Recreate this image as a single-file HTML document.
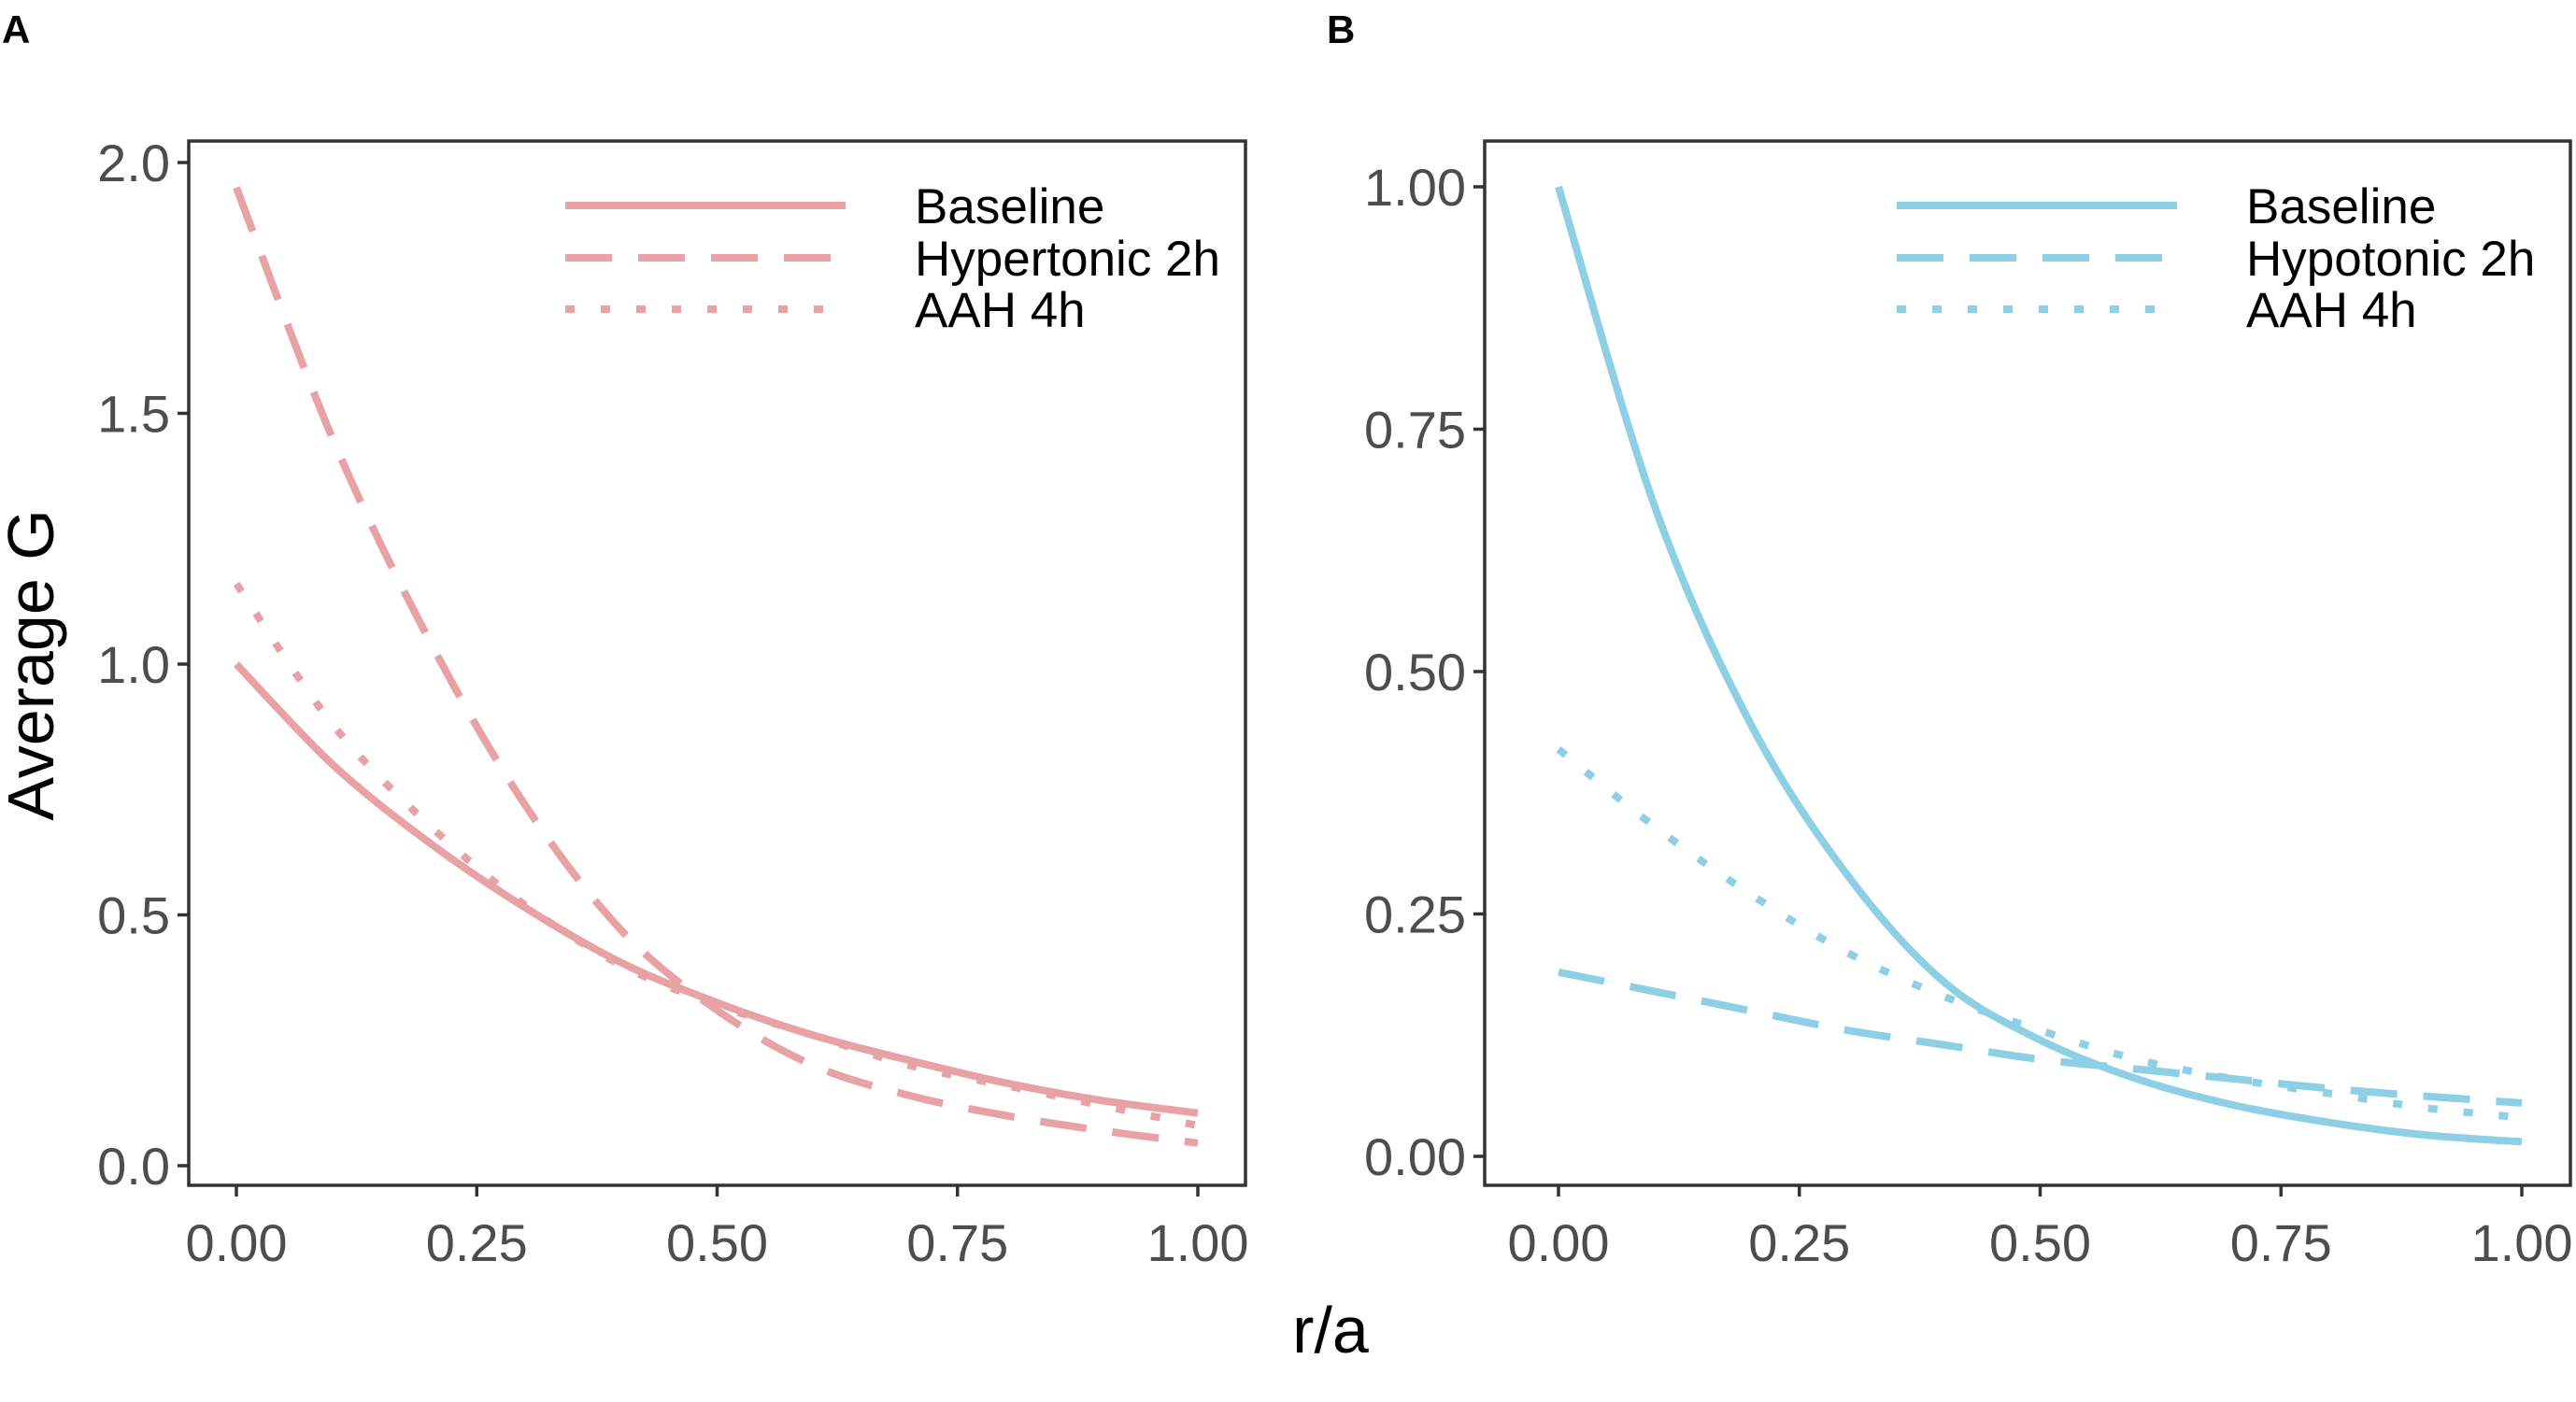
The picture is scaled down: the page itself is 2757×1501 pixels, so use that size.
<!DOCTYPE html>
<html><head><meta charset="utf-8"><style>
html,body{margin:0;padding:0;background:#fff;}
svg{display:block;font-family:"Liberation Sans",Arial,sans-serif;}
</style></head><body>
<svg id="chart" width="2757" height="1501" viewBox="0 0 2757 1501" xmlns="http://www.w3.org/2000/svg"></svg>
<script>
const xs = [0,0.1,0.2,0.3,0.4,0.5,0.6,0.7,0.8,0.9,1.0];
const aBaseline = [1.0,0.8,0.645,0.515,0.405,0.325,0.26,0.21,0.165,0.13,0.105];
const aHyper = [1.95,1.45,1.05,0.72,0.47,0.31,0.2,0.14,0.1,0.07,0.045];
const aAAH = [1.16,0.88,0.68,0.52,0.4,0.32,0.26,0.2,0.16,0.12,0.08];
const bBaseline = [1.0,0.67,0.445,0.29,0.18,0.12,0.08,0.053,0.035,0.022,0.015];
const bHypo = [0.19,0.17,0.15,0.13,0.115,0.1,0.09,0.08,0.07,0.062,0.055];
const bAAH = [0.42,0.34,0.27,0.21,0.165,0.13,0.1,0.08,0.065,0.05,0.04];
const xTicks = [0,0.25,0.5,0.75,1.0];
const xTickLabels = ["0.00","0.25","0.50","0.75","1.00"];
const aYTicks = [0,0.5,1.0,1.5,2.0];
const aYTickLabels = ["0.0","0.5","1.0","1.5","2.0"];
const bYTicks = [0,0.25,0.5,0.75,1.0];
const bYTickLabels = ["0.00","0.25","0.50","0.75","1.00"];
const aLegend = ["Baseline","Hypertonic 2h","AAH 4h"];
const bLegend = ["Baseline","Hypotonic 2h","AAH 4h"];

const NS="http://www.w3.org/2000/svg";
const svg=document.getElementById('chart');
function mk(tag,attrs,parent){const e=document.createElementNS(NS,tag);for(const k in attrs)e.setAttribute(k,attrs[k]);(parent||svg).appendChild(e);return e;}
const dashes=[null,"50 28","10 28"];

function panel(cfg){
  const g=mk('g',{});
  
  
  const sx=v=>cfg.x0+(cfg.x1-cfg.x0)*v;
  const sy=v=>cfg.y0+(cfg.yTop-cfg.y0)*(v/cfg.yMax);
  const box=mk('rect',{x:cfg.L,y:151,width:cfg.R-cfg.L,height:1118,fill:'none',stroke:'#333',"stroke-width":3.5},g);
  
  
  cfg.yTicks.forEach((t,i)=>{
    const y=sy(t);
    const tk=mk('line',{x1:cfg.L-12,x2:cfg.L,y1:y,y2:y,stroke:'#333',"stroke-width":3.5},g);
    
    
    const tx=mk('text',{x:cfg.L-20,y:y+20,"text-anchor":'end',"font-size":56,fill:'#4d4d4d'},g);
    tx.textContent=cfg.yLabels[i];
    
    
  });
  xTicks.forEach((t,i)=>{
    const x=sx(t);
    const tk=mk('line',{x1:x,x2:x,y1:1269,y2:1281,stroke:'#333',"stroke-width":3.5},g);
    
    
    const tx=mk('text',{x:x,y:1350,"text-anchor":'middle',"font-size":56,fill:'#4d4d4d'},g);
    tx.textContent=xTickLabels[i];
    
    
  });
  cfg.series.forEach((s,k)=>{
    const pts=xs.map((x,i)=>[sx(x),sy(s[i])]);
    let d='M'+pts[0][0]+','+pts[0][1];
    for(let i=0;i<pts.length-1;i++){
      const p0=pts[Math.max(0,i-1)],p1=pts[i],p2=pts[i+1],p3=pts[Math.min(pts.length-1,i+2)];
      const c1=[p1[0]+(p2[0]-p0[0])/6,p1[1]+(p2[1]-p0[1])/6];
      const c2=[p2[0]-(p3[0]-p1[0])/6,p2[1]-(p3[1]-p1[1])/6];
      d+=' C'+c1[0]+','+c1[1]+' '+c2[0]+','+c2[1]+' '+p2[0]+','+p2[1];
    }
    const a={d:d,fill:'none',stroke:cfg.color,"stroke-width":8};
    if(dashes[k])a["stroke-dasharray"]=dashes[k];
    const p=mk('path',a,g);
    
    
    const ly=[220,276,331][k];
    const la={x1:cfg.lx,x2:cfg.lx+300,y1:ly,y2:ly,stroke:cfg.color,"stroke-width":8};
    if(dashes[k])la["stroke-dasharray"]=dashes[k];
    const ll=mk('line',la,g);
    
    
    const lt=mk('text',{x:cfg.lx+374,y:ly+19,"font-size":53,fill:'#000'},g);
    lt.textContent=cfg.legend[k];
    
    
  });
}
panel({name:'panel-a',L:202,R:1333,x0:253,x1:1282,y0:1248,yTop:174,yMax:2.0,yTicks:aYTicks,yLabels:aYTickLabels,
  series:[aBaseline,aHyper,aAAH],legend:aLegend,color:'#E8A1A5',lx:605});
panel({name:'panel-b',L:1589,R:2751,x0:1668,x1:2699,y0:1238,yTop:200,yMax:1.0,yTicks:bYTicks,yLabels:bYTickLabels,
  series:[bBaseline,bHypo,bAAH],legend:bLegend,color:'#8DD0E6',lx:2030});

function txt(attrs,s,name){const t=mk('text',attrs);t.textContent=s;}
txt({x:2,y:46,"font-size":42,"font-weight":'bold'},'A','panel-a-label');
txt({x:1420,y:46,"font-size":42,"font-weight":'bold'},'B','panel-b-label');
txt({x:1424,y:1448,"font-size":70,"text-anchor":'middle'},'r/a','x-axis-title');
txt({x:0,y:0,"font-size":70,"text-anchor":'middle',transform:'translate(57,712) rotate(-90)'},'Average G','y-axis-title');
</script>
</body></html>
